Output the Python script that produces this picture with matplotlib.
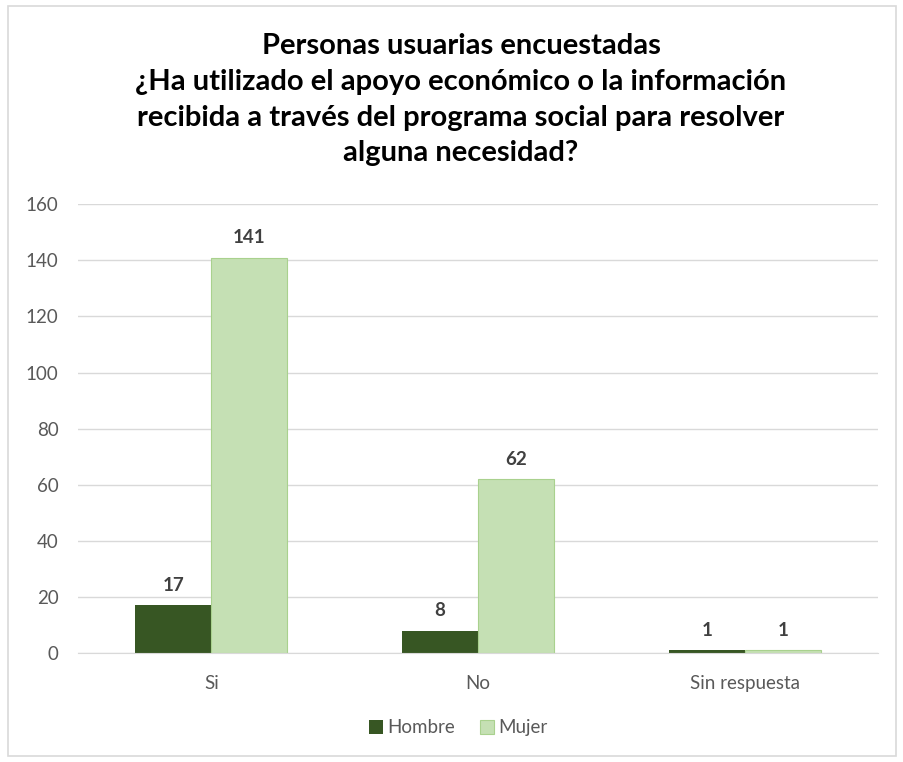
#!/usr/bin/env python3
'''
Grouped bar chart of survey answers by gender
'''
import numpy as np
import matplotlib.pyplot as plt
from matplotlib.patches import Rectangle

plt.rcParams['font.family'] = ['Lato', 'DejaVu Sans']

categories = ['Si', 'No', 'Sin respuesta']
hombre = [17, 8, 1]
mujer = [141, 62, 1]
yticks = [0, 20, 40, 60, 80, 100, 120, 140, 160]
title = ('Personas usuarias encuestadas\n'
         '¿Ha utilizado el apoyo económico o la información\n'
         'recibida a través del programa social para resolver\n'
         'alguna necesidad?')

fig = plt.figure(figsize=(9.04, 7.62), dpi=100)
fig.patches.append(Rectangle((0.009, 0.008), 0.982, 0.984, transform=fig.transFigure,
                             fill=False, edgecolor='#d9d9d9', linewidth=1.2))
ax = fig.add_axes([0.0863, 0.143, 0.885, 0.589])

x = np.arange(len(categories))
w = 0.285
b1 = ax.bar(x - w / 2, hombre, w, color='#375623', label='Hombre')
b2 = ax.bar(x + w / 2, mujer, w, color='#c5e0b4', edgecolor='#a9d18e',
            linewidth=0.8, label='Mujer')

for bars in (b1, b2):
    for rect in bars:
        h = rect.get_height()
        ax.text(rect.get_x() + rect.get_width() / 2, h + 4, str(int(h)),
                ha='center', va='bottom', fontsize=13.5, fontweight='bold',
                color='#404040')

ax.set_xlim(-0.5, 2.5)
ax.set_ylim(0, 160)
ax.set_yticks(yticks)
ax.set_xticks(x)
ax.set_xticklabels(categories)
ax.tick_params(axis='both', length=0, labelsize=13.5, colors='#595959')
ax.tick_params(axis='x', pad=16)
ax.tick_params(axis='y', pad=14)
ax.grid(axis='y', color='#d9d9d9', linewidth=1)
ax.set_axisbelow(True)
for s in ['top', 'right', 'left']:
    ax.spines[s].set_visible(False)
ax.spines['bottom'].set_color('#d9d9d9')

fig.text(0.51, 0.957, title, ha='center', va='top', fontsize=21,
         fontweight='bold', color='#000000', linespacing=1.47)
fig.legend(loc='center', bbox_to_anchor=(0.507, 0.045), ncol=2, frameon=False,
           fontsize=13.5, handlelength=0.75, handleheight=0.75, handletextpad=0.25,
           columnspacing=1.3, labelcolor='#595959')

fig.savefig('out.png', dpi=100)
